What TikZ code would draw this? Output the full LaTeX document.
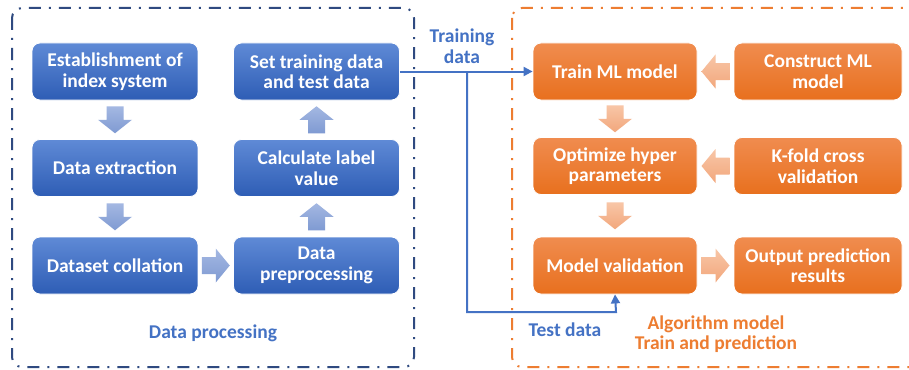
\documentclass[tikz,border=0pt]{standalone}
\usepackage{fontspec}
\setmainfont{Carlito}
\usetikzlibrary{arrows.meta,calc}
\definecolor{bluebox}{HTML}{4472C4}
\definecolor{bluetop}{HTML}{5F8AD6}
\definecolor{bluebot}{HTML}{2E5DB5}
\definecolor{orgtop}{HTML}{F08C4F}
\definecolor{orgbot}{HTML}{E8701E}
\definecolor{navy}{HTML}{2F4A80}
\definecolor{orgline}{HTML}{ED7D31}
\definecolor{barrtop}{HTML}{A4B8E2}
\definecolor{barrbot}{HTML}{7F9AD2}
\definecolor{oarrtop}{HTML}{F8C6A7}
\definecolor{oarrbot}{HTML}{F2A77C}
\tikzset{
  bbox/.style={rounded corners=8pt, minimum width=166pt, minimum height=57pt,
    top color=bluetop, bottom color=bluebot, draw=white, line width=0.8pt,
    text=white, font=\fontsize{19.5}{20.5}\selectfont\bfseries, align=center, inner sep=2pt},
  obox/.style={bbox, top color=orgtop, bottom color=orgbot},
  lbl/.style={font=\fontsize{19.5}{20.5}\selectfont\bfseries, align=center},
  frame/.style={line width=2pt, dash pattern=on 12pt off 8pt on 2pt off 8pt, rounded corners=10pt},
  barrow/.style={top color=barrtop, bottom color=barrbot, draw=none},
  oarrow/.style={top color=oarrtop, bottom color=oarrbot, draw=none},
  conn/.style={draw=bluebox, line width=2pt, -{Triangle[length=9pt,width=9pt]}},
}
\newcommand{\dnarrow}[2]{% center coordinate, style
  \path[#2] ($(#1)+(-8.5,-13.5)$) -- ($(#1)+(8.5,-13.5)$) -- ($(#1)+(8.5,0)$) -- ($(#1)+(17,0)$)
    -- ($(#1)+(0,13.5)$) -- ($(#1)+(-17,0)$) -- ($(#1)+(-8.5,0)$) -- cycle;}
\newcommand{\uparrowblk}[2]{%
  \path[#2] ($(#1)+(-8.5,13.5)$) -- ($(#1)+(8.5,13.5)$) -- ($(#1)+(8.5,0)$) -- ($(#1)+(17,0)$)
    -- ($(#1)+(0,-13.5)$) -- ($(#1)+(-17,0)$) -- ($(#1)+(-8.5,0)$) -- cycle;}
\newcommand{\rtarrow}[2]{%
  \path[#2] ($(#1)+(-14,-8.5)$) -- ($(#1)+(0,-8.5)$) -- ($(#1)+(0,-17)$) -- ($(#1)+(14,0)$)
    -- ($(#1)+(0,17)$) -- ($(#1)+(0,8.5)$) -- ($(#1)+(-14,8.5)$) -- cycle;}
\newcommand{\ltarrow}[2]{%
  \path[#2] ($(#1)+(14,-8.5)$) -- ($(#1)+(0,-8.5)$) -- ($(#1)+(0,-17)$) -- ($(#1)+(-14,0)$)
    -- ($(#1)+(0,17)$) -- ($(#1)+(0,8.5)$) -- ($(#1)+(14,8.5)$) -- cycle;}
\begin{document}
\begin{tikzpicture}[x=1pt,y=-1pt]
\useasboundingbox (0,0) rectangle (909,369);
\clip (0,0) rectangle (909,369);
\fill[white] (0,0) rectangle (909,369);
% frames
\draw[frame, navy] (12,8) rectangle (414,367);
\draw[frame, orgline] (512,8) rectangle (940,367);
% blue boxes
\node[bbox] (b1) at (115,71.5) {Establishment of\\index system};
\node[bbox] (b2) at (115,168) {Data extraction};
\node[bbox] (b3) at (115,265.5) {Dataset collation};
\node[bbox] (b4) at (316.5,265.5) {Data\\preprocessing};
\node[bbox] (b5) at (316.5,168) {Calculate label\\value};
\node[bbox] (b6) at (316.5,71.5) {Set training data\\and test data};
% orange boxes
\node[obox, minimum width=164pt] (o1) at (615,71.5) {Train ML model};
\node[obox, minimum width=168pt] (o2) at (818,71.5) {Construct ML\\model};
\node[obox, minimum width=164pt] (o3) at (615,166) {Optimize hyper\\parameters};
\node[obox, minimum width=168pt] (o4) at (818,166) {K-fold cross\\validation};
\node[obox, minimum width=164pt] (o5) at (615,265.5) {Model validation};
\node[obox, minimum width=168pt] (o6) at (818,265.5) {Output prediction\\results};
% block arrows
\coordinate (a12) at ($(b1.south)!0.5!(b2.north)$);
\coordinate (a23) at ($(b2.south)!0.5!(b3.north)$);
\coordinate (a34) at ($(b3.east)!0.5!(b4.west)$);
\coordinate (a45) at ($(b4.north)!0.5!(b5.south)$);
\coordinate (a56) at ($(b5.north)!0.5!(b6.south)$);
\coordinate (c21) at ($(o2.west)!0.5!(o1.east)$);
\coordinate (c13) at ($(o1.south)!0.5!(o3.north)$);
\coordinate (c43) at ($(o4.west)!0.5!(o3.east)$);
\coordinate (c35) at ($(o3.south)!0.5!(o5.north)$);
\coordinate (c56) at ($(o5.east)!0.5!(o6.west)$);
\dnarrow{a12}{barrow}
\dnarrow{a23}{barrow}
\rtarrow{a34}{barrow}
\uparrowblk{a45}{barrow}
\uparrowblk{a56}{barrow}
\ltarrow{c21}{oarrow}
\dnarrow{c13}{oarrow}
\ltarrow{c43}{oarrow}
\dnarrow{c35}{oarrow}
\rtarrow{c56}{oarrow}
% connectors
\coordinate (br) at (467,71.5);
\coordinate (bd) at (467,312);
\coordinate (bt) at (616,312);
\draw[conn] (b6.east) -- (o1.west);
\draw[conn] (br) -- (bd) -- (bt) -- (o5.south);
% labels
\node[lbl, text=bluebox] (ltrain) at (462,46) {Training\\data};
\node[lbl, text=bluebox] (ltest) at (565,330) {Test data};
\node[lbl, text=bluebox] (lproc) at (213,333) {Data processing};
\node[lbl, text=orgline] (lalg) at (716,334) {Algorithm model\\Train and prediction};
\end{tikzpicture}
\end{document}
